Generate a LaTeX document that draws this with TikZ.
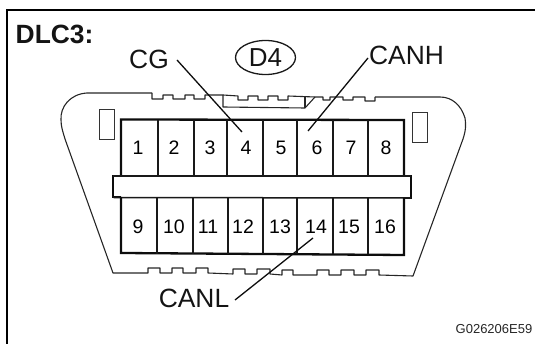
\documentclass[tikz,border=0pt]{standalone}
\usepackage{fontspec}
\setmainfont{Liberation Sans}
\begin{document}
\begin{tikzpicture}[x=1pt,y=-1pt,
  lab/.style={inner sep=0pt,font=\fontsize{26.4}{28}\selectfont,text=black!92},
  pinnum/.style={inner sep=0pt,font=\fontsize{19.5}{21}\selectfont,text=black},
  thin line/.style={line width=1.1pt,black!85,line join=round},
  slot/.style={line width=0.85pt,black!80},
  frame/.style={line width=2.4pt,black},
  heavy/.style={line width=2.3pt,black!95,line join=miter},
  divider/.style={line width=1.25pt,black!90},
  leader/.style={line width=1.3pt,black!95}]
\useasboundingbox (0,0) rectangle (535,344);
% frame
\draw[frame] (7,344) -- (7,10) -- (535,10);
\node[inner sep=0pt,anchor=west,font=\fontsize{26.4}{28}\selectfont\bfseries,text=black!92] (title) at (15.5,34) {DLC3:};
% connector outline
\draw[thin line] (152,93) -- (87,93) .. controls (70,94) and (60,107) .. (61,120)
  .. controls (61,127) and (63,132) .. (65,139) -- (113,273) -- (140,273)
  -- (148,273) -- (148,268) -- (160,268) -- (160,273) -- (172,273) -- (172,268) -- (183,268) -- (183,273)
  -- (196,273) -- (196,268) -- (208,268) -- (208,273) -- (233,274) -- (233,269) -- (245,269) -- (245,274)
  -- (257,274) -- (257,269) -- (270,269) -- (270,274) -- (282,275) -- (282,270) -- (293,270) -- (293,275)
  -- (317,275) -- (317,270) -- (329,270) -- (329,275) -- (341,275) -- (341,270) -- (354,270) -- (354,275)
  -- (366,275) -- (366,270) -- (379,270) -- (379,275) -- (413,276) -- (463,139)
  .. controls (466,130) and (466,124) .. (465,118) .. controls (461,105) and (452,97) .. (440,97) -- (375,97);
\draw[thin line] (152,93) -- (152,99) -- (163,99) -- (163,95) -- (173,95) -- (173,99) -- (185,99) -- (185,95)
  -- (194,95) -- (194,99) -- (205,99) -- (205,95) -- (223,95) -- (238,96) -- (238,100) -- (248,100) -- (248,96)
  -- (258,96) -- (258,100) -- (268,100) -- (268,96) -- (278,96) -- (278,100) -- (288,100) -- (288,96)
  -- (315,97) -- (323,97) -- (323,100) -- (330,100) -- (330,97) -- (343,97) -- (343,100) -- (353,100) -- (353,97)
  -- (365,97) -- (365,101) -- (375,101) -- (375,97);
\draw[thin line] (223,95) -- (223,107) -- (305,108) -- (315,97);
\draw[thin line] (305,96) -- (305,108);
% slots
\draw[slot] (99,109) rectangle (114,139);
\draw[slot] (412,112) rectangle (427,142);
% upper block, bar, lower block
\draw[heavy] (121,176) -- (121,119.5) -- (404,120) -- (404,176);
\draw[heavy] (121,176) -- (113,176) -- (113,197) -- (121,197);
\draw[heavy] (404,176) -- (411,176) -- (411,198) -- (404,198);
\draw[line width=1.5pt,black!90] (113,176) -- (411,176);
\draw[line width=1.5pt,black!90] (113,197.5) -- (411,198);
\draw[heavy] (121,197) -- (121,253) -- (404,255) -- (404,198);
% dividers
\foreach \x in {158,194,227,263,297,333,368} \draw[divider] (\x,120) -- (\x,176);
\foreach \x in {157,193,228,263,297,333,368} \draw[divider] (\x,198) -- (\x,254);
% numbers
\foreach \t/\x in {1/138,2/174,3/210,4/246,5/281,6/317,7/351,8/386}
  \node[pinnum] (p\t) at (\x,148) {\t};
\foreach \t/\x in {9/138,10/174,11/208,12/243,13/280,14/316,15/349,16/385}
  \node[pinnum] (p\t) at (\x,227) {\t};
% labels
\node[lab] (cg) at (149,59) {CG};
\node[lab] (canh) at (406.5,55) {CANH};
\node[lab] (canl) at (194,298) {CANL};
\node[lab,font=\fontsize{26}{28}\selectfont,inner sep=0pt] (d4) at (265.5,57.5) {D4};
\draw[line width=1.3pt,black!90] (265.5,57.5) ellipse [x radius=30,y radius=17];
\node[inner sep=0pt,anchor=east,font=\fontsize{13}{15}\selectfont,text=black!85] (code) at (532.5,329.5) {G026206E59};
% leaders
\coordinate (cgend) at (177,60);
\coordinate (pin4) at (242,132);
\coordinate (canhend) at (368,58);
\coordinate (pin6) at (308,131);
\coordinate (canlend) at (235,300);
\coordinate (pin14) at (313,238);
\draw[leader] (cgend) -- (pin4);
\draw[leader] (canhend) -- (pin6);
\draw[leader] (canlend) -- (pin14);
\end{tikzpicture}
\end{document}
